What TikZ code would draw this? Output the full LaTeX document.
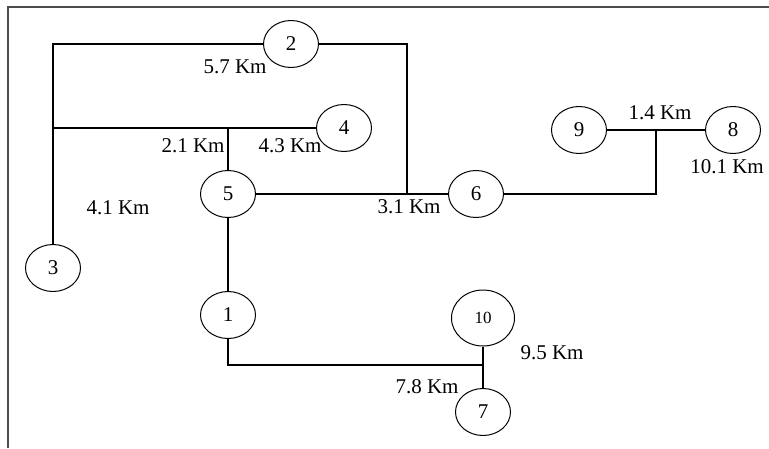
\documentclass[tikz,border=0pt]{standalone}
\usepackage{fontspec}
\setmainfont{Liberation Serif}
\usetikzlibrary{shapes.geometric}

\begin{document}
\begin{tikzpicture}[x=1pt,y=-1pt,
    bus/.style={draw, ellipse, line width=1pt, minimum width=55pt, minimum height=47pt, inner sep=0pt, font=\fontsize{21}{24}\selectfont},
    dist/.style={inner sep=0pt, font=\fontsize{21}{24}\selectfont},
    feeder/.style={line width=1.3pt}]

    \useasboundingbox (0,0) rectangle (769,448);

    % Draw the frame
    \draw[line width=2pt, black!70] (8,448) -- (8,7) -- (769,7);

    % Define the points of the buses
    \coordinate (P1) at (228,315);
    \coordinate (P2) at (291,44);
    \coordinate (P3) at (53,268);
    \coordinate (P4) at (344,128);
    \coordinate (P5) at (228,194);
    \coordinate (P6) at (476,194);
    \coordinate (P7) at (483,412);
    \coordinate (P8) at (733,130);
    \coordinate (P9) at (579,130);
    \coordinate (P10) at (483,318);

    % Define the junctions
    \coordinate (J34) at (53,128);
    \coordinate (J45) at (228,128);
    \coordinate (J56) at (407,194);
    \coordinate (J98) at (656,130);
    \coordinate (J17) at (483,365);

    % Place the buses
    \node (B1) at (P1) [bus] {1};
    \node (B2) at (P2) [bus] {2};
    \node (B3) at (P3) [bus] {3};
    \node (B4) at (P4) [bus] {4};
    \node (B5) at (P5) [bus] {5};
    \node (B6) at (P6) [bus] {6};
    \node (B7) at (P7) [bus] {7};
    \node (B8) at (P8) [bus] {8};
    \node (B9) at (P9) [bus] {9};
    \node (B10) at (P10) [bus, minimum width=63pt, minimum height=56pt, font=\fontsize{17}{20}\selectfont] {10};

    % Draw the lines between the buses
    \draw[feeder] (B2) -| (B3);
    \draw[feeder] (B2) -| (J56);
    \draw[feeder] (J34) -- (B4);
    \draw[feeder] (J45) -- (B5);
    \draw[feeder] (B5) -- (B6);
    \draw[feeder] (B5) -- (B1);
    \draw[feeder] (B1) |- (J17);
    \draw[feeder] (B10) -- (B7);
    \draw[feeder] (B6) -| (J98);
    \draw[feeder] (B9) -- (B8);

    % Place the distances
    \node (D1) at (235,67) [dist] {5.7 Km};
    \node (D2) at (193,146) [dist] {2.1 Km};
    \node (D3) at (290,146) [dist] {4.3 Km};
    \node (D4) at (118,208) [dist] {4.1 Km};
    \node (D5) at (409,207) [dist] {3.1 Km};
    \node (D6) at (660,113) [dist] {1.4 Km};
    \node (D7) at (727,167) [dist] {10.1 Km};
    \node (D8) at (552,353) [dist] {9.5 Km};
    \node (D9) at (427,387) [dist] {7.8 Km};

\end{tikzpicture}
\end{document}
